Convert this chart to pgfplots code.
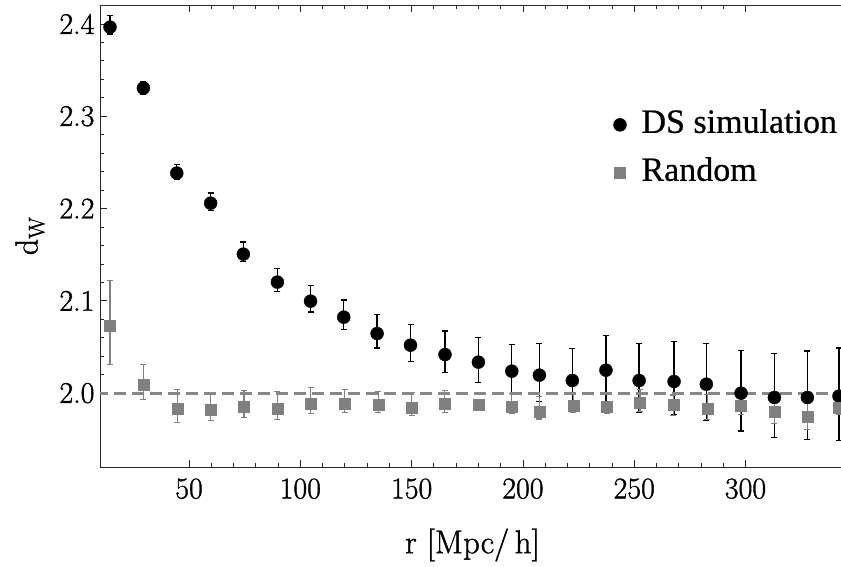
\documentclass[border=0pt]{standalone}
\usepackage{fontspec}
\usepackage{pgfplots}
\pgfplotsset{compat=1.18}
\newfontfamily\legfont{Liberation Serif}[FakeBold=0.6]
\newfontfamily\labfont{Latin Modern Roman}[FakeBold=1.2]
\definecolor{rndgray}{RGB}{128,128,128}
\definecolor{refgray}{RGB}{135,135,135}
\definecolor{framegray}{RGB}{40,40,40}

\begin{document}
\begin{tikzpicture}
\begin{axis}[
  scale only axis,
  width=745pt, height=462pt,
  xmin=10, xmax=344.7,
  ymin=1.92, ymax=2.4205,
  xtick={50,100,150,200,250,300},
  ytick={2.0,2.1,2.2,2.3,2.4},
  minor x tick num=4,
  minor y tick num=4,
  xtick pos=both, ytick pos=left,
  tick align=inside,
  major tick length=7pt,
  minor tick length=4pt,
  axis line style={framegray, line width=0.8pt},
  every tick/.style={framegray, line width=0.8pt},
  /pgf/number format/assume math mode=true,
  yticklabel style={/pgf/number format/fixed, /pgf/number format/fixed zerofill,
    /pgf/number format/precision=1, xshift=-2pt},
  ticklabel style={font=\labfont\fontsize{30}{32}\selectfont},
  xticklabel style={yshift=-8pt},
  xlabel={r [Mpc/\,h]},
  ylabel={d\textsubscript{W}},
  every axis x label/.style={at={(axis description cs:0.5,0)}, anchor=center, yshift=-78pt,
    font=\labfont\fontsize{33}{36}\selectfont},
  every axis y label/.style={at={(axis description cs:-0.094,0.5)}, rotate=90, anchor=center,
    font=\labfont\fontsize{32}{35}\selectfont},
  legend style={draw=none, fill=none, at={(axis description cs:0.689,0.78)}, anchor=north west,
    font=\legfont\fontsize{34}{40}\selectfont, row sep=12pt, inner sep=0pt,
    nodes={text height=24pt, text depth=8pt},
    /tikz/every odd column/.append style={column sep=13pt}},
  legend cell align=left,
  clip=true,
]
\coordinate (sw) at (rel axis cs:0,0);

% DS simulation
\addplot[only marks, mark=*, mark size=6.5pt, black,
  error bars/.cd, y dir=both, y explicit,
  error bar style={black, line width=1.3pt},
  error mark options={rotate=90, mark size=3pt, line width=1.3pt, black}]
coordinates {
  (14.5,2.3965) += (0,0.013)  -= (0,0.0075)
  (29.5,2.3305) += (0,0.0075) -= (0,0.0065)
  (44.5,2.2384) += (0,0.0096) -= (0,0.0070)
  (59.7,2.2058) += (0,0.0110) -= (0,0.0080)
  (74.4,2.1506) += (0,0.0130) -= (0,0.0083)
  (89.7,2.1203) += (0,0.0150) -= (0,0.0103)
  (104.6,2.0997) += (0,0.0170) -= (0,0.0117)
  (119.5,2.0823) += (0,0.0187) -= (0,0.0137)
  (134.5,2.0646) += (0,0.0204) -= (0,0.0156)
  (149.5,2.0520) += (0,0.0223) -= (0,0.0177)
  (165.0,2.0418) += (0,0.0254) -= (0,0.0195)
  (180.0,2.0336) += (0,0.0267) -= (0,0.0221)
  (195.0,2.0238) += (0,0.0290) -= (0,0.0240)
  (207.4,2.0195) += (0,0.0342) -= (0,0.0285)
  (222.2,2.0137) += (0,0.0350) -= (0,0.0300)
  (237.3,2.0249) += (0,0.0375) -= (0,0.0380)
  (252.2,2.0137) += (0,0.0400) -= (0,0.0350)
  (267.9,2.0126) += (0,0.0430) -= (0,0.0360)
  (282.4,2.0097) += (0,0.0440) -= (0,0.0390)
  (298.0,2.0000) += (0,0.0460) -= (0,0.0410)
  (313.0,1.9953) += (0,0.0480) -= (0,0.0430)
  (327.8,1.9953) += (0,0.0505) -= (0,0.0456)
  (342.0,1.9968) += (0,0.0520) -= (0,0.0480)
};
\addlegendentry{DS simulation}

% Random catalogue
\addplot[only marks, mark=square*, mark size=5.5pt, rndgray,
  error bars/.cd, y dir=both, y explicit,
  error bar style={rndgray, line width=1.1pt},
  error mark options={rotate=90, mark size=3pt, line width=1.1pt, rndgray}]
coordinates {
  (14.5,2.0733) += (0,0.0490) -= (0,0.0420)
  (29.5,2.0090) += (0,0.0220) -= (0,0.0160)
  (44.7,1.9830) += (0,0.0206) -= (0,0.0150)
  (59.7,1.9820) += (0,0.0190) -= (0,0.0120)
  (74.7,1.9850) += (0,0.0180) -= (0,0.0114)
  (89.7,1.9837) += (0,0.0180) -= (0,0.0120)
  (104.7,1.9887) += (0,0.0170) -= (0,0.0110)
  (120.0,1.9887) += (0,0.0150) -= (0,0.0100)
  (135.0,1.9877) += (0,0.0140) -= (0,0.0090)
  (150.0,1.9844) += (0,0.0160) -= (0,0.0090)
  (164.8,1.9887) += (0,0.0140) -= (0,0.0100)
  (180.0,1.9877) += (0,0.0050) -= (0,0.0050)
  (195.0,1.9855) += (0,0.0140) -= (0,0.0070)
  (207.4,1.9800) += (0,0.0160) -= (0,0.0080)
  (222.6,1.9866) += (0,0.0130) -= (0,0.0080)
  (237.6,1.9855) += (0,0.0050) -= (0,0.0080)
  (252.6,1.9898) += (0,0.0140) -= (0,0.0100)
  (267.6,1.9880) += (0,0.0100) -= (0,0.0120)
  (282.9,1.9833) += (0,0.0150) -= (0,0.0120)
  (297.8,1.9866) += (0,0.0150) -= (0,0.0100)
  (313.0,1.9800) += (0,0.0190) -= (0,0.0125)
  (327.8,1.9747) += (0,0.0200) -= (0,0.0137)
  (342.0,1.9844) += (0,0.0080) -= (0,0.0080)
};
\addlegendentry{Random}

% reference level d_W = 2
\addplot[refgray, line width=3pt, dash pattern=on 12pt off 6pt, forget plot]
  coordinates {(0,2.0) (400,2.0)};
\end{axis}
\pgfresetboundingbox
\path ([shift={(-100pt,-99pt)}]sw) rectangle ([shift={(741pt,467pt)}]sw);
\end{tikzpicture}
\end{document}
